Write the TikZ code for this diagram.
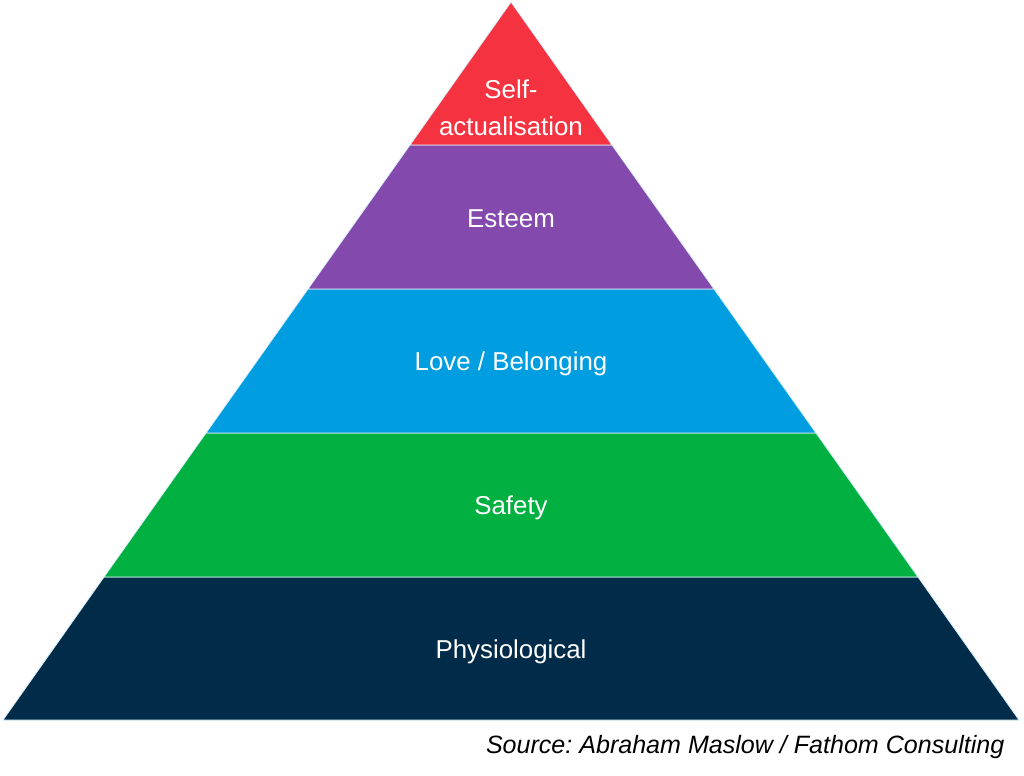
\documentclass[tikz,border=0pt]{standalone}
\usepackage{fontspec}
\setmainfont{Liberation Sans}
\frenchspacing
\definecolor{levelred}{RGB}{245,50,64}
\definecolor{levelpurple}{RGB}{132,73,173}
\definecolor{levelblue}{RGB}{0,158,224}
\definecolor{levelgreen}{RGB}{0,176,64}
\definecolor{levelnavy}{RGB}{0,43,73}

\begin{document}
\begin{tikzpicture}[
    x=0.75pt, y=-0.75pt,
    layer/.style={draw=white!85!levelblue, line width=0.6pt},
    label/.style={text=white, align=center, font=\fontsize{19.4}{27.5}\selectfont},
    source/.style={anchor=east, font=\fontsize{18.8}{22}\selectfont\itshape}
]
\useasboundingbox (0,0) rectangle (1024,775);

% pyramid levels, bottom to top
\filldraw[layer, fill=levelnavy] (3,720) -- (1019,720) -- (918,577) -- (104,577) -- cycle;
\filldraw[layer, fill=levelgreen] (104,577) -- (918,577) -- (816,433) -- (206,433) -- cycle;
\filldraw[layer, fill=levelblue] (206,433) -- (816,433) -- (714,289) -- (308,289) -- cycle;
\filldraw[layer, fill=levelpurple] (308,289) -- (714,289) -- (612,145) -- (410,145) -- cycle;
\filldraw[layer, fill=levelred] (410,145) -- (612,145) -- (511,2) -- cycle;

\node[label] (physio) at (511,652) {Physiological};
\node[label] (safety) at (511,508) {Safety};
\node[label] (love) at (511,364) {Love / Belonging};
\node[label] (esteem) at (511,219) {Esteem};
\node[label] (selfact) at (511,108) {Self-\\actualisation};

\node[source] (src) at (1009,747) {Source: Abraham Maslow / Fathom Consulting};
\end{tikzpicture}
\end{document}
